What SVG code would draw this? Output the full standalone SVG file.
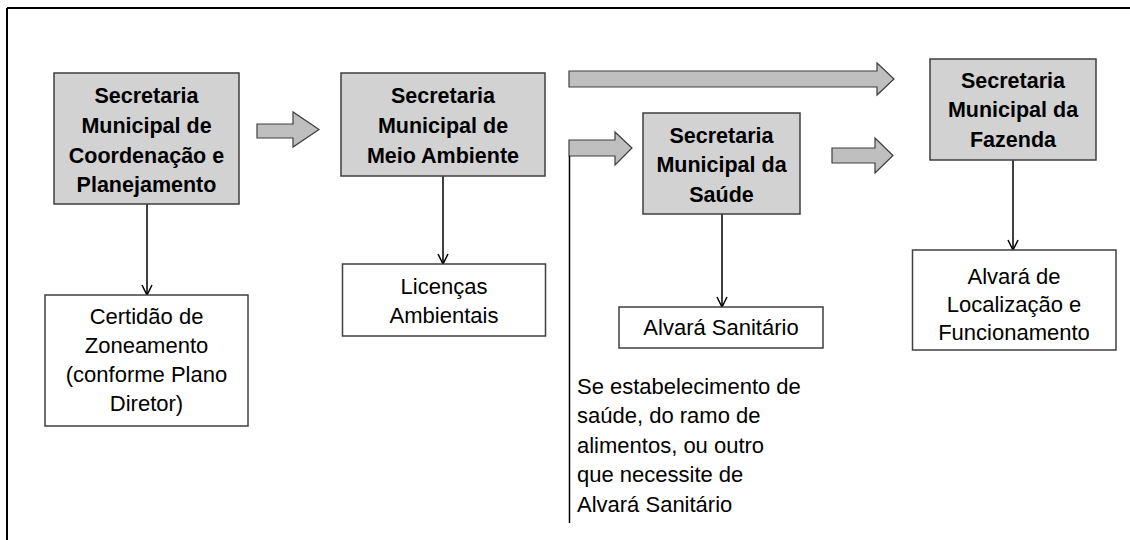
<svg xmlns="http://www.w3.org/2000/svg" width="1130" height="540" viewBox="0 0 1130 540">
<style>
.sec{fill:#d2d2d2;stroke:#3f3f3f;stroke-width:1.5}
.doc{fill:#ffffff;stroke:#3f3f3f;stroke-width:1.5}
.bt{font-family:"Liberation Sans",Arial,sans-serif;font-size:21.5px;font-weight:bold;fill:#000;text-anchor:middle}
.rt{font-family:"Liberation Sans",Arial,sans-serif;font-size:22px;fill:#000;text-anchor:middle}
.lt{font-family:"Liberation Sans",Arial,sans-serif;font-size:22px;fill:#000}
.blk{fill:#bfbfbf;stroke:#3f3f3f;stroke-width:1.2}
.con{stroke:#000;stroke-width:1.5;fill:none}
</style>
<defs>
<marker id="open" viewBox="0 0 12 12" refX="11" refY="6" markerWidth="12" markerHeight="12" markerUnits="userSpaceOnUse" orient="auto">
<path d="M1,1 L11,6 L1,11" fill="none" stroke="#000" stroke-width="1.5"/>
</marker>
</defs>
<rect width="1130" height="540" fill="#fff"/>
<g id="frame">
<line x1="7" y1="8" x2="1130" y2="8" stroke="#000" stroke-width="2"/>
<line x1="7" y1="8" x2="7" y2="540" stroke="#000" stroke-width="2"/>
</g>
<g id="connectors">
<polygon class="blk" points="257,124 293,124 293,112 319,129.5 293,147 293,138 257,138"/>
<polygon class="blk" points="569,71 877,71 877,63 894,79 877,95 877,87 569,87"/>
<polygon class="blk" points="569,140 615,140 615,132 632,148 615,165 615,156 569,156"/>
<polygon class="blk" points="832,148 875,148 875,138 893,155.5 875,173 875,163 832,163"/>
<line class="con" x1="569.5" y1="156" x2="569.5" y2="523"/>
<line class="con" x1="147" y1="204" x2="147" y2="295" marker-end="url(#open)"/>
<line class="con" x1="443" y1="176" x2="443" y2="264" marker-end="url(#open)"/>
<line class="con" x1="722" y1="214" x2="722" y2="307" marker-end="url(#open)"/>
<line class="con" x1="1013" y1="160" x2="1013" y2="250" marker-end="url(#open)"/>
</g>
<g id="sec-planejamento">
<rect class="sec" x="54" y="73" width="185" height="131"/>
<text class="bt" x="146.5" y="103">Secretaria</text>
<text class="bt" x="146.5" y="133">Municipal de</text>
<text class="bt" x="146.5" y="163">Coordenação e</text>
<text class="bt" x="146.5" y="192">Planejamento</text>
</g>
<g id="sec-meio-ambiente">
<rect class="sec" x="341" y="73" width="204" height="103"/>
<text class="bt" x="443" y="103">Secretaria</text>
<text class="bt" x="443" y="133">Municipal de</text>
<text class="bt" x="443" y="163">Meio Ambiente</text>
</g>
<g id="sec-saude">
<rect class="sec" x="643" y="113" width="157" height="101"/>
<text class="bt" x="721.5" y="143">Secretaria</text>
<text class="bt" x="721.5" y="172">Municipal da</text>
<text class="bt" x="721.5" y="202">Saúde</text>
</g>
<g id="sec-fazenda">
<rect class="sec" x="930" y="59" width="166" height="101"/>
<text class="bt" x="1013" y="88">Secretaria</text>
<text class="bt" x="1013" y="117">Municipal da</text>
<text class="bt" x="1013" y="147">Fazenda</text>
</g>
<g id="doc-certidao">
<rect class="doc" x="45" y="295" width="203" height="131"/>
<text class="rt" x="146.5" y="324">Certidão de</text>
<text class="rt" x="146.5" y="353">Zoneamento</text>
<text class="rt" x="146.5" y="382">(conforme Plano</text>
<text class="rt" x="146.5" y="411">Diretor)</text>
</g>
<g id="doc-licencas">
<rect class="doc" x="342.5" y="264" width="203" height="72"/>
<text class="rt" x="444" y="294">Licenças</text>
<text class="rt" x="444" y="323">Ambientais</text>
</g>
<g id="doc-alvara-sanitario">
<rect class="doc" x="619" y="307" width="204" height="41"/>
<text class="rt" x="721" y="335">Alvará Sanitário</text>
</g>
<g id="doc-alvara-localizacao">
<rect class="doc" x="912.5" y="250" width="203.5" height="100"/>
<text class="rt" x="1014" y="284">Alvará de</text>
<text class="rt" x="1014" y="312">Localização e</text>
<text class="rt" x="1014" y="340">Funcionamento</text>
</g>
<g id="note-saude">
<text class="lt" x="577" y="394">Se estabelecimento de</text>
<text class="lt" x="577" y="423">saúde, do ramo de</text>
<text class="lt" x="577" y="453">alimentos, ou outro</text>
<text class="lt" x="577" y="482">que necessite de</text>
<text class="lt" x="577" y="512">Alvará Sanitário</text>
</g>
</svg>
